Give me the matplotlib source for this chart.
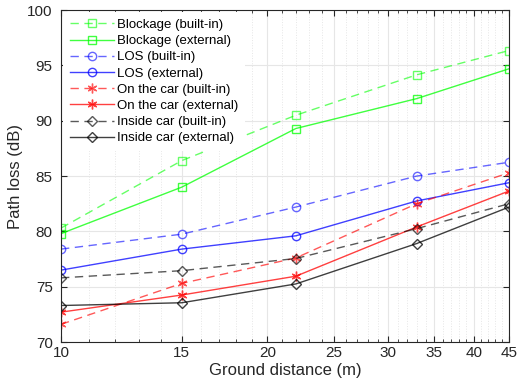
import matplotlib
matplotlib.use("Agg")
import matplotlib.pyplot as plt
from matplotlib.ticker import FixedLocator, NullFormatter, FixedFormatter

plt.rcParams['font.family'] = ['Liberation Sans', 'DejaVu Sans']

distance = [10, 15, 22, 33, 45]
blockage_builtin = [80.3, 86.4, 90.5, 94.15, 96.35]
blockage_external = [79.8, 84.0, 89.3, 92.0, 94.7]
los_builtin = [78.4, 79.75, 82.2, 85.0, 86.25]
los_external = [76.5, 78.4, 79.6, 82.75, 84.4]
onthecar_builtin = [71.6, 75.3, 77.6, 82.5, 85.3]
onthecar_external = [72.7, 74.25, 75.95, 80.4, 83.65]
inside_builtin = [75.8, 76.45, 77.55, 80.25, 82.5]
inside_external = [73.3, 73.55, 75.25, 78.9, 82.2]

x_ticks = [10, 15, 20, 25, 30, 35, 40, 45]
y_ticks = [70, 75, 80, 85, 90, 95, 100]

series = [
    ("Blockage (built-in)", blockage_builtin, "#00ff00", "--", "s", 0.6),
    ("Blockage (external)", blockage_external, "#00ff00", "-", "s", 0.75),
    ("LOS (built-in)", los_builtin, "#0000ff", "--", "o", 0.6),
    ("LOS (external)", los_external, "#0000ff", "-", "o", 0.75),
    ("On the car (built-in)", onthecar_builtin, "#ff0000", "--", (6, 2, 0), 0.65),
    ("On the car (external)", onthecar_external, "#ff0000", "-", (6, 2, 0), 0.75),
    ("Inside car (built-in)", inside_builtin, "#000000", "--", "D", 0.65),
    ("Inside car (external)", inside_external, "#000000", "-", "D", 0.75),
]

fig = plt.figure(figsize=(5.17, 3.9), dpi=100)
ax = fig.add_axes([0.118, 0.123, 0.8665, 0.851])

for label, vals, color, ls, mk, a in series:
    ms = 6
    if mk == "D":
        ms = 5.5
    elif mk == "s":
        ms = 5.5
    elif isinstance(mk, tuple):
        ms = 7
    ax.plot(distance, vals, linestyle=ls, color=color, alpha=a, marker=mk,
            markerfacecolor='none', markeredgecolor=color, markersize=ms,
            linewidth=1.0, label=label, dashes=(6, 4) if ls == "--" else (None, None))

ax.set_xscale('log')
ax.set_xlim(10, 45)
ax.set_ylim(70, 100)
ax.xaxis.set_major_locator(FixedLocator(x_ticks))
ax.xaxis.set_major_formatter(FixedFormatter([str(t) for t in x_ticks]))
minor = [m for m in range(11, 45) if m not in x_ticks]
ax.xaxis.set_minor_locator(FixedLocator(minor))
ax.xaxis.set_minor_formatter(NullFormatter())
ax.set_yticks(y_ticks)

ax.grid(True, which='major', color='#e6e6e6', linewidth=0.8, linestyle='-')
ax.grid(True, which='minor', axis='x', color='#e6e6e6', linewidth=0.7, linestyle=':')
ax.set_axisbelow(True)

ax.tick_params(which='both', direction='in', top=True, right=True, labelsize=11, colors='#262626')
ax.tick_params(which='major', length=4, pad=6)
ax.tick_params(which='minor', length=2)
ax.tick_params(axis='x', which='major', pad=3)
for s in ax.spines.values():
    s.set_color('#262626')
    s.set_linewidth(0.8)

ax.set_xlabel("Ground distance (m)", fontsize=12, color='#262626', labelpad=2)
ax.set_ylabel("Path loss (dB)", fontsize=12, color='#262626', labelpad=3)

leg = ax.legend(loc='upper left', fontsize=9.5, frameon=True, handlelength=3.4,
                borderaxespad=0.15, labelspacing=0.3, handletextpad=0.2,
                borderpad=0.5, fancybox=False, edgecolor='none', framealpha=1)

fig.savefig("out.png", dpi=100)
